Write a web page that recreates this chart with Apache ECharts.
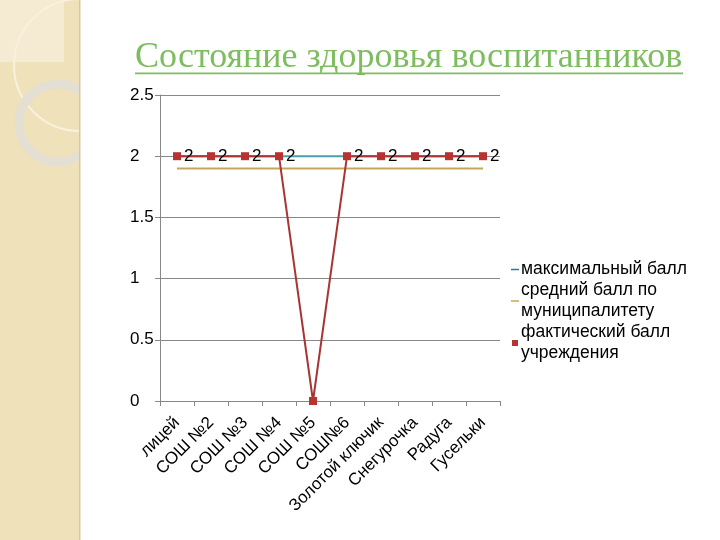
<!DOCTYPE html>
<html><head><meta charset="utf-8">
<script src="https://cdn.jsdelivr.net/npm/echarts@6/dist/echarts.min.js"></script>
<style>html,body{margin:0;padding:0;background:#fff}#c{width:720px;height:540px}</style>
</head><body><div id="c"></div>
<script>
var categories = ['лицей','СОШ №2','СОШ №3','СОШ №4','СОШ №5','СОШ№6','Золотой ключик','Снегурочка','Радуга','Гусельки'];
var maxScore = [2,2,2,2,2,2,2,2,2,2];
var avgScore = [1.9,1.9,1.9,1.9,1.9,1.9,1.9,1.9,1.9,1.9];
var actualScore = [2,2,2,2,0,2,2,2,2,2];
var yTicks = [0,0.5,1,1.5,2,2.5];
var seriesNames = ['максимальный балл','средний балл по муниципалитету','фактический балл учреждения'];
var legendLabels = {'максимальный балл':'максимальный балл','средний балл по муниципалитету':'средний балл по\nмуниципалитету','фактический балл учреждения':'фактический балл\nучреждения'};

var lineIcon = 'path://M0,0L0.01,0L0,0.01Z M0,3.3L8,3.3L8,4.7L0,4.7Z M8,8L7.99,8L8,7.99Z';
var dotIcon = 'path://M0,0L0.01,0L0,0.01Z M1,1L7,1L7,7L1,7Z M8,8L7.99,8L8,7.99Z';
var font = '"Liberation Sans", Arial, sans-serif';

var chart = echarts.init(document.getElementById('c'), null, {renderer:'canvas'});
chart.setOption({
  backgroundColor: '#ffffff',
  animation: false,
  graphic: [
    {type:'rect', z:-20, shape:{x:0,y:0,width:80,height:540}, style:{fill:'#efe1ba'}},
    {type:'rect', z:-19, shape:{x:0,y:0,width:64,height:62}, style:{fill:'#f4ebd2'}},
    {type:'circle', z:-18, shape:{cx:80,cy:65,r:66}, style:{fill:'none', stroke:'#f8f1de', lineWidth:2}},
    {type:'circle', z:-17, shape:{cx:58,cy:123,r:39}, style:{fill:'none', stroke:'#e4dfd3', lineWidth:9}},
    {type:'rect', z:-16, shape:{x:80,y:0,width:640,height:540}, style:{fill:'#ffffff'}},
    {type:'rect', z:-15, shape:{x:79,y:0,width:1.5,height:540}, style:{fill:'#d6c79e'}},
    {type:'text', z:10, left:135, top:40, style:{text:'Состояние здоровья воспитанников', fill:'#7dbd5f', font:'36px "Liberation Serif", "Times New Roman", serif'}},
    {type:'rect', z:10, shape:{x:135,y:72.5,width:548,height:1.8}, style:{fill:'#7dbd5f'}}
  ],
  grid: {left:160, top:95, width:340, height:306, containLabel:false},
  legend: {
    orient:'vertical', left:506, top:254, itemGap:0, itemWidth:8, itemHeight:8,
    selectedMode:false,
    data:[
      {name:seriesNames[0], icon:lineIcon, itemStyle:{color:'#2f7f86'}},
      {name:seriesNames[1], icon:lineIcon, itemStyle:{color:'#c8aa55'}},
      {name:seriesNames[2], icon:dotIcon, itemStyle:{color:'#b83232'}}
    ],
    formatter:function(n){return legendLabels[n];},
    textStyle:{fontSize:17.5, lineHeight:21, color:'#000', fontFamily:font, padding:[0,0,0,-3]}
  },
  xAxis: {
    type:'category', data:categories, boundaryGap:true,
    axisLine:{lineStyle:{color:'#888', width:1}},
    axisTick:{show:true, length:5, lineStyle:{color:'#888'}},
    axisLabel:{rotate:45, fontSize:17, color:'#000', fontFamily:font, margin:19, interval:0}
  },
  yAxis: {
    type:'value', min:0, max:2.5, interval:0.5,
    axisLine:{show:true, lineStyle:{color:'#888'}},
    axisTick:{show:true, length:5, lineStyle:{color:'#888'}},
    axisLabel:{fontSize:17, color:'#000', fontFamily:font, margin:30, align:'left',
      formatter:function(v){return yTicks.indexOf(v)>=0 ? String(v) : '';}},
    splitLine:{show:true, lineStyle:{color:'#888', width:1}}
  },
  series: [
    {name:seriesNames[0], type:'line', data:maxScore, showSymbol:false, symbol:'none',
      lineStyle:{color:'#4aa0ac', width:2}, itemStyle:{color:'#3f8f8f'}, z:2},
    {name:seriesNames[1], type:'line', data:avgScore, showSymbol:false, symbol:'none',
      lineStyle:{color:'#c4a85a', width:2}, itemStyle:{color:'#c8aa55'}, z:2},
    {name:seriesNames[2], type:'line', symbol:'rect', symbolSize:8,
      data:actualScore.map(function(v){return v===0?{value:v,label:{show:false}}:v;}),
      lineStyle:{color:'#a83535', width:2}, itemStyle:{color:'#b83232'},
      label:{show:true, position:'right', distance:3, fontSize:17, color:'#000', fontFamily:font}, z:3}
  ]
});
</script></body></html>
